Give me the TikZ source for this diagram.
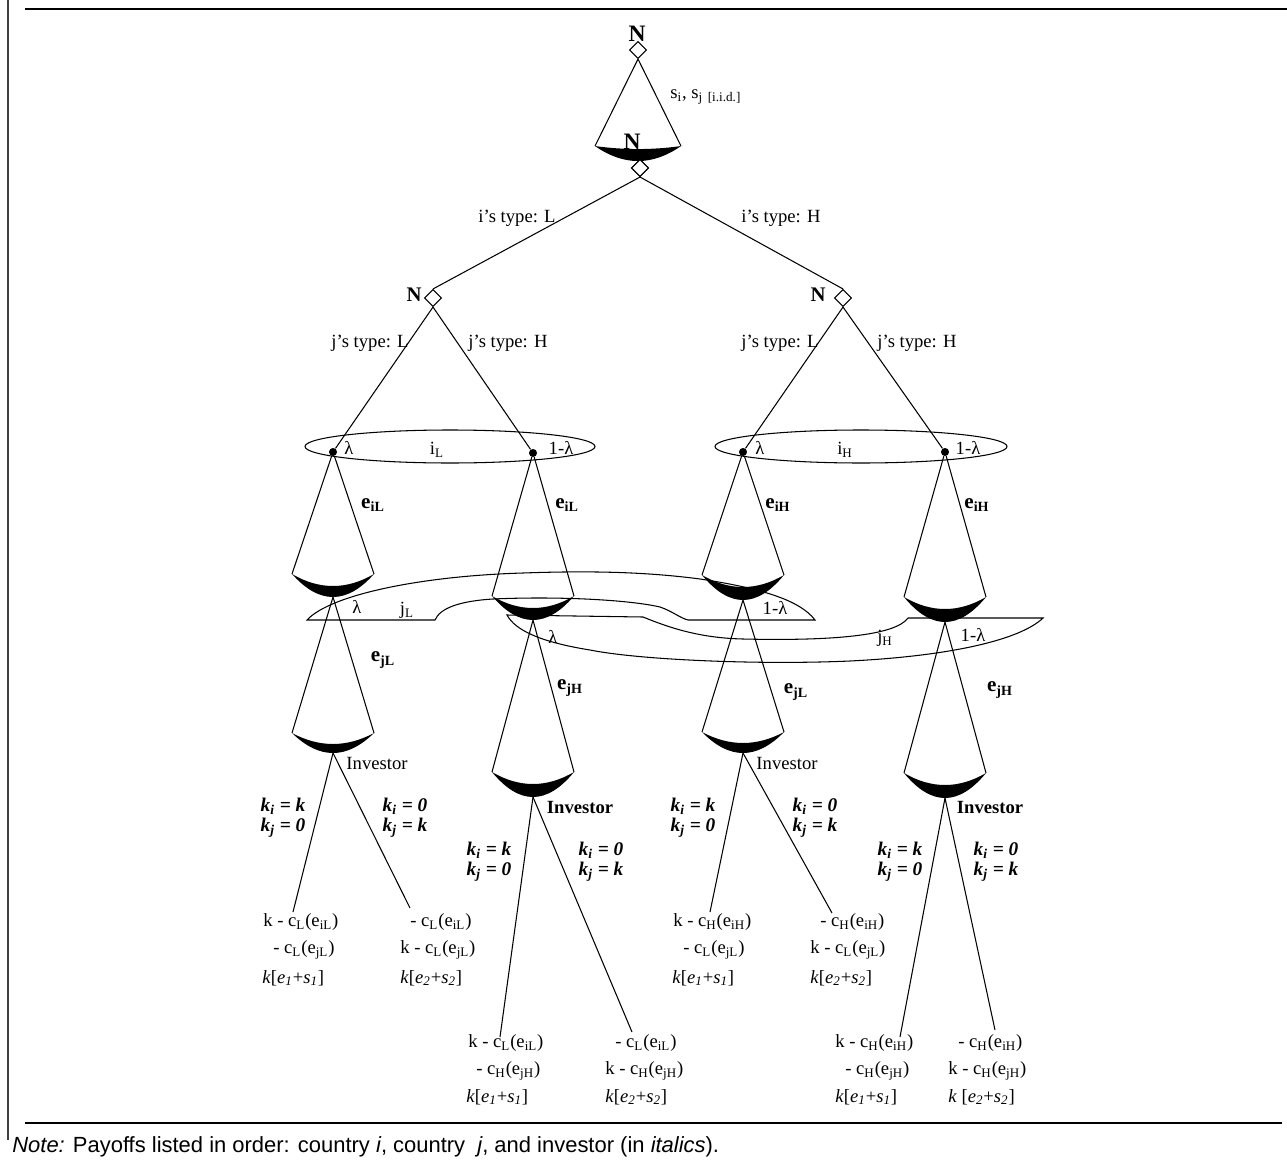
\documentclass[tikz,border=0pt]{standalone}
\usepackage{fontspec}
\setmainfont{Liberation Serif}
\newfontfamily\arialfont{Liberation Sans}
\usetikzlibrary{shapes.geometric,calc}

\tikzset{
 edge/.style={line width=0.6pt},
 infoset/.style={line width=0.6pt},
 dmd/.style={diamond, draw, line width=0.6pt, fill=white, inner sep=0pt, minimum width=9.7pt, minimum height=9.7pt},
 bigN/.style={font=\fontsize{13.4}{14}\selectfont\bfseries, inner sep=0pt},
 midN/.style={font=\fontsize{11.8}{13}\selectfont\bfseries, inner sep=0pt},
 lab/.style={font=\fontsize{10.6}{12}\selectfont, inner sep=0pt},
 blab/.style={font=\fontsize{10.6}{12}\selectfont\bfseries, inner sep=0pt},
 elab/.style={font=\fontsize{12}{13}\selectfont\bfseries, inner sep=0pt},
 klab/.style={font=\fontsize{11}{11.4}\selectfont\bfseries\itshape, align=left, inner sep=0pt},
 pay/.style={font=\fontsize{10.6}{12}\selectfont, inner sep=0pt, anchor=west},
 dot/.style={circle, fill, inner sep=0pt, minimum size=4.6pt},
}

\newcommand\mycone[6]{%
 \coordinate (#1L) at ($(#2)+(-#3,#4)$);
 \coordinate (#1R) at ($(#2)+(#3,#4)$);
 \coordinate (#1bot) at ($(#2)+(0,{#4+#6})$);
 \draw[edge] (#2) -- (#1L) (#2) -- (#1R);
 \fill (#1L) .. controls +({#3*2/3},{#5*4/3}) and +({-#3*2/3},{#5*4/3}) .. (#1R)
   .. controls +({-#3*2/3},{#6*4/3}) and +({#3*2/3},{#6*4/3}) .. (#1L) -- cycle;
}
\newcommand\pay[4]{\node[pay] (#1) at (#2,#3) {#4};}
\newcommand\sub[1]{\textsubscript{#1}}
\newcommand\invA{\textit{k}[\textit{e}\textsubscript{\textit{1}}+\textit{s}\textsubscript{\textit{1}}]}
\newcommand\invB{\textit{k}[\textit{e}\textsubscript{\textit{2}}+\textit{s}\textsubscript{\textit{2}}]}
\newcommand\kleft{k\sub{i} = k\\k\sub{j} = 0}
\newcommand\kright{k\sub{i} = 0\\k\sub{j} = k}

\begin{document}
\begin{tikzpicture}[x=0.02cm,y=-0.02cm]
\useasboundingbox (0,0) rectangle (1287,1162);

% frame
\draw[line width=1.1pt] (25,9) -- (1287,9);
\draw[line width=0.6pt, black!75] (8,0) -- (8,1140);
\draw[line width=1.1pt] (25,1123) -- (1282,1123);

% information sets of j
\draw[infoset] (307,620) -- (435,620) .. controls (440,608) and (460,601) .. (493,599)
  .. controls (560,596) and (630,600) .. (660,607) .. controls (672,611) and (680,618) .. (688,620)
  -- (815,620) .. controls (800,600) and (760,588) .. (700,579)
  .. controls (640,571) and (580,571) .. (523,573) .. controls (420,576) and (330,595) .. (307,620) -- cycle;
\draw[infoset] (507,615) -- (643,617) .. controls (670,628) and (700,638) .. (743,639)
  .. controls (830,641) and (895,636) .. (908,618) -- (1043,618)
  .. controls (1020,640) and (950,656) .. (850,661) .. controls (760,665) and (640,660) .. (590,650)
  .. controls (540,642) and (515,630) .. (507,615) -- cycle;

% information sets of i
\draw[infoset] (450,446.5) ellipse [x radius=145, y radius=16.5];
\draw[infoset] (861,446.5) ellipse [x radius=146, y radius=16.5];

% nature nodes
\node[dmd] (n0) at (638,50) {};
\node[dmd] (n1) at (640,168) {};
\node[dmd] (nL) at (433,298) {};
\node[dmd] (nR) at (843,298) {};

% top cone
\mycone{t0}{n0.south}{43}{87}{3}{15}
\node[dmd] at (n1) {};

% dots for i
\node[dot] (dL1) at (333,452) {};
\node[dot] (dL2) at (533,453) {};
\node[dot] (dH1) at (743,452) {};
\node[dot] (dH2) at (945,452) {};

\draw[edge] (n1.south) -- (nL.north);
\draw[edge] (n1.south) -- (nR.north);
\draw[edge] (nL.south) -- (dL1);
\draw[edge] (nL.south) -- (dL2);
\draw[edge] (nR.south) -- (dH1);
\draw[edge] (nR.south) -- (dH2);

% effort cones of i
\mycone{c1}{dL1}{41}{122}{12}{23}
\mycone{c2}{dL2}{41}{143}{12}{24}
\mycone{c3}{dH1}{41}{123}{12}{25}
\mycone{c4}{dH2}{41}{145}{12}{25}
% effort cones of j
\mycone{d1}{c1bot}{41}{136}{11}{20}
\mycone{d2}{c2bot}{41}{152}{12}{25}
\mycone{d3}{c3bot}{41}{132}{11}{21}
\mycone{d4}{c4bot}{41}{151}{12}{25}

% investor branches
\coordinate (e1a) at (293,912); \coordinate (e1b) at (410,908);
\coordinate (e2a) at (500,1037); \coordinate (e2b) at (632,1032);
\coordinate (e3a) at (710,912); \coordinate (e3b) at (832,913);
\coordinate (e4a) at (900,1037); \coordinate (e4b) at (995,1030);
\draw[edge] (d1bot) -- (e1a); \draw[edge] (d1bot) -- (e1b);
\draw[edge] (d2bot) -- (e2a); \draw[edge] (d2bot) -- (e2b);
\draw[edge] (d3bot) -- (e3a); \draw[edge] (d3bot) -- (e3b);
\draw[edge] (d4bot) -- (e4a); \draw[edge] (d4bot) -- (e4b);

% N labels
\node[bigN] (N0) at (637,34) {N};
\node[bigN] (N1) at (632,142) {N};
\node[midN] (NL) at (414,295) {N};
\node[midN] (NR) at (818,295) {N};
\node[lab, anchor=west] (sij) at (670,97) {s\sub{i}, s\sub{j} {\fontsize{7.5}{8}\selectfont\raisebox{-0.5ex}{[i.i.d.]}}};

% type labels
\node[lab] (tiL) at (517,218) {i’s type: L};
\node[lab] (tiH) at (781,218) {i’s type: H};
\node[lab] (tjL1) at (370,343) {j’s type: L};
\node[lab] (tjH1) at (508,343) {j’s type: H};
\node[lab] (tjL2) at (780,343) {j’s type: L};
\node[lab] (tjH2) at (917,343) {j’s type: H};

% i info set labels
\node[lab] (la1) at (349,448) {λ};
\node[lab] (iL) at (437,450) {i\sub{L}};
\node[lab] (la2) at (561,448) {1-λ};
\node[lab] (la3) at (760,448) {λ};
\node[lab] (iH) at (845,450) {i\sub{H}};
\node[lab] (la4) at (968,448) {1-λ};

% j info set labels
\node[lab] (la5) at (357,607) {λ};
\node[lab] (jL) at (407,610) {j\sub{L}};
\node[lab] (la6) at (775,608) {1-λ};
\node[lab] (la7) at (553,637) {λ};
\node[lab] (jH) at (885,638) {j\sub{H}};
\node[lab] (la8) at (973,635) {1-λ};

% effort labels
\node[elab] (ei1) at (373,505) {e\sub{iL}};
\node[elab] (ei2) at (567,505) {e\sub{iL}};
\node[elab] (ei3) at (778,505) {e\sub{iH}};
\node[elab] (ei4) at (977,505) {e\sub{iH}};
\node[elab] (ej1) at (383,660) {e\sub{jL}};
\node[elab] (ej2) at (570,688) {e\sub{jH}};
\node[elab] (ej3) at (796,692) {e\sub{jL}};
\node[elab] (ej4) at (1000,690) {e\sub{jH}};

% investor labels
\node[lab] (inv1) at (377,763) {Investor};
\node[blab] (inv2) at (580,807) {Investor};
\node[lab] (inv3) at (787,763) {Investor};
\node[blab] (inv4) at (990,807) {Investor};

% allocation labels
\node[klab] (k1a) at (283,818) {\kleft};
\node[klab] (k1b) at (405,818) {\kright};
\node[klab] (k2a) at (489,862) {\kleft};
\node[klab] (k2b) at (601,862) {\kright};
\node[klab] (k3a) at (693,818) {\kleft};
\node[klab] (k3b) at (815,818) {\kright};
\node[klab] (k4a) at (900,862) {\kleft};
\node[klab] (k4b) at (996,862) {\kright};

% payoffs
\pay{p1a1}{263}{922}{k - c\sub{L}(e\sub{iL})}
\pay{p1a2}{273}{950}{- c\sub{L}(e\sub{jL})}
\pay{p1a3}{262}{978}{\invA}
\pay{p1b1}{410}{922}{- c\sub{L}(e\sub{iL})}
\pay{p1b2}{400}{950}{k - c\sub{L}(e\sub{jL})}
\pay{p1b3}{400}{978}{\invB}

\pay{p2a1}{468}{1043}{k - c\sub{L}(e\sub{iL})}
\pay{p2a2}{476}{1071}{- c\sub{H}(e\sub{jH})}
\pay{p2a3}{466}{1097}{\invA}
\pay{p2b1}{615}{1043}{- c\sub{L}(e\sub{iL})}
\pay{p2b2}{605}{1071}{k - c\sub{H}(e\sub{jH})}
\pay{p2b3}{605}{1097}{\invB}

\pay{p3a1}{673}{922}{k - c\sub{H}(e\sub{iH})}
\pay{p3a2}{683}{950}{- c\sub{L}(e\sub{jL})}
\pay{p3a3}{672}{978}{\invA}
\pay{p3b1}{820}{922}{- c\sub{H}(e\sub{iH})}
\pay{p3b2}{810}{950}{k - c\sub{L}(e\sub{jL})}
\pay{p3b3}{810}{978}{\invB}

\pay{p4a1}{835}{1043}{k - c\sub{H}(e\sub{iH})}
\pay{p4a2}{845}{1071}{- c\sub{H}(e\sub{jH})}
\pay{p4a3}{835}{1097}{\invA}
\pay{p4b1}{958}{1043}{- c\sub{H}(e\sub{iH})}
\pay{p4b2}{948}{1071}{k - c\sub{H}(e\sub{jH})}
\pay{p4b3}{948}{1097}{\textit{k} [\textit{e}\textsubscript{\textit{2}}+\textit{s}\textsubscript{\textit{2}}]}

% note
\node[anchor=west, inner sep=0pt, font=\arialfont\fontsize{12.5}{14}\selectfont] (note) at (12,1147)
 {\textit{Note:} Payoffs listed in order: country \textit{i}, country \ \textit{j}, and investor (in \textit{italics}).};
\end{tikzpicture}
\end{document}
